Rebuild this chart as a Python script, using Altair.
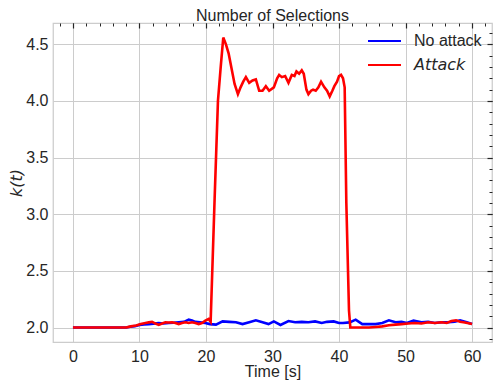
import altair as alt
import pandas as pd

chart_title = "Number of Selections"
series_names = ["No attack", "Attack"]
series_colors = ["#0000ff", "#ff0000"]

no_attack_t = [0, 8.0, 8.6, 9.3, 10.0, 10.7, 11.4, 12.1, 12.9, 13.6, 14.4, 15.1, 15.9,
               16.7, 17.4, 17.9, 18.4, 19.1, 19.9, 20.6, 21.5, 22.5, 23.5, 24.5, 25.5,
               26.5, 27.5, 28.5, 29.4, 30.2, 31.2, 32.4, 33.4, 34.4, 35.4, 36.4, 37.4,
               38.2, 39.2, 40.0, 40.6, 41.6, 42.5, 43.5, 44.5, 45.5, 46.5, 47.5, 48.5,
               49.4, 50.2, 51.2, 52.4, 53.4, 54.4, 55.4, 56.4, 57.4, 58.2, 59.2, 60.0]
no_attack_k = [2.0, 2.0, 2.006, 2.012, 2.023, 2.026, 2.03, 2.034, 2.04, 2.036, 2.04, 2.042,
               2.046, 2.05, 2.069, 2.062, 2.05, 2.045, 2.04, 2.03, 2.026, 2.054, 2.05,
               2.046, 2.03, 2.046, 2.063, 2.046, 2.03, 2.054, 2.022, 2.057, 2.046, 2.05,
               2.046, 2.054, 2.04, 2.05, 2.054, 2.04, 2.04, 2.045, 2.069, 2.03, 2.03,
               2.03, 2.04, 2.063, 2.046, 2.05, 2.04, 2.06, 2.046, 2.05, 2.04, 2.046,
               2.046, 2.05, 2.063, 2.046, 2.03]

attack_t = [0, 8.0, 8.7, 9.5, 10.2, 10.9, 11.4, 11.9, 12.4, 12.9, 13.4, 13.9, 14.4, 14.9,
            15.4, 15.9, 16.4, 16.9, 17.4, 17.9, 18.4, 18.9, 19.4, 19.9, 20.4, 20.7,
            21.3, 21.8, 22.2, 22.6, 23.0, 23.4, 23.8, 24.3, 24.8, 25.2, 25.6, 26.0,
            26.5, 27.0, 27.5, 28.0, 28.5, 29.0, 29.5, 30.2, 30.7, 31.0, 31.4, 31.9,
            32.4, 32.9, 33.3, 33.6, 34.0, 34.4, 34.7, 35.1, 35.4, 35.8, 36.1, 36.5,
            36.9, 37.3, 37.8, 38.2, 38.6, 39.0, 39.3, 39.7, 40.0, 40.3, 40.6, 40.85,
            41.1, 41.5, 41.7, 43.0, 44.5, 45.5, 46.5, 47.5, 48.5, 49.4, 50.4, 51.4,
            52.4, 53.4, 54.4, 55.4, 56.2, 56.9, 57.6, 58.2, 58.7, 59.3, 60.0]
attack_k = [2.0, 2.0, 2.01, 2.017, 2.03, 2.04, 2.045, 2.05, 2.035, 2.023, 2.035, 2.046,
            2.044, 2.046, 2.04, 2.03, 2.04, 2.046, 2.04, 2.046, 2.04, 2.03, 2.04, 2.06,
            2.075, 2.05,
            3.14, 4.0, 4.29, 4.56, 4.50, 4.42, 4.30, 4.15, 4.06, 4.12, 4.17, 4.21,
            4.16, 4.18, 4.19, 4.09, 4.09, 4.13, 4.09, 4.12, 4.20, 4.23, 4.21, 4.22,
            4.16, 4.23, 4.22, 4.26, 4.24, 4.27, 4.24, 4.10, 4.06, 4.09, 4.10, 4.09,
            4.12, 4.17, 4.12, 4.09, 4.04, 4.09, 4.13, 4.17, 4.22, 4.23, 4.20, 4.12,
            3.1, 2.15, 2.0, 2.0, 2.0, 2.005, 2.01, 2.02, 2.025, 2.03, 2.035, 2.04,
            2.035, 2.046, 2.04, 2.046, 2.04, 2.057, 2.063, 2.05, 2.046, 2.04, 2.03]

x_ticks = [0, 10, 20, 30, 40, 50, 60]
x_minor_ticks = [-2, 0, 2, 4, 6, 8, 10, 12, 14, 16, 18, 20, 22, 24, 26, 28, 30, 32, 34,
                 36, 38, 40, 42, 44, 46, 48, 50, 52, 54, 56, 58, 60, 62]
y_ticks = [2.0, 2.5, 3.0, 3.5, 4.0, 4.5]
y_minor_ticks = [1.9, 2.0, 2.1, 2.2, 2.3, 2.4, 2.5, 2.6, 2.7, 2.8, 2.9, 3.0, 3.1, 3.2,
                 3.3, 3.4, 3.5, 3.6, 3.7, 3.8, 3.9, 4.0, 4.1, 4.2, 4.3, 4.4, 4.5, 4.6]
x_domain = [-3, 63]
y_domain = [1.872, 4.688]

TEXT = "#262626"
GRID = "#cccccc"
SANS = "Liberation Sans"
W, H = 439, 319

df_no = pd.DataFrame({"t": no_attack_t, "k": no_attack_k, "series": series_names[0]})
df_at = pd.DataFrame({"t": attack_t, "k": attack_k, "series": series_names[1]})
df_title = pd.DataFrame({"title": [chart_title]})

xs = alt.Scale(domain=x_domain, nice=False, zero=False)
ys = alt.Scale(domain=y_domain, nice=False, zero=False)

color = alt.Color(
    "series:N",
    scale=alt.Scale(domain=series_names, range=series_colors),
    legend=alt.Legend(
        orient="none", legendX=314, legendY=8, title=None,
        symbolType="stroke", symbolSize=1089, symbolStrokeWidth=2,
        clipHeight=20, rowPadding=4, labelOffset=12, padding=0,
        labelFontSize=16, labelColor=TEXT, labelLimit=300,
        labelFont=alt.ExprRef("datum.label === 'Attack' ? 'DejaVu Sans' : 'Liberation Sans'"),
        labelFontStyle=alt.ExprRef("datum.label === 'Attack' ? 'italic' : 'normal'"),
    ),
)

blue = alt.Chart(df_no).mark_line(strokeWidth=2.6).encode(
    x=alt.X("t:Q", scale=xs, axis=alt.Axis(
        orient="bottom", values=x_ticks, grid=True, gridColor=GRID, gridWidth=1,
        domain=False, ticks=False, tickSize=0, labelPadding=6,
        labelFont=SANS, labelFontSize=16, labelColor=TEXT,
        title="Time [s]", titleFont=SANS, titleFontSize=16, titleFontWeight="normal",
        titleColor=TEXT, titleX=W / 2, titleY=34.5, titleBaseline="alphabetic",
        titleAlign="center")),
    y=alt.Y("k:Q", scale=ys, axis=alt.Axis(
        orient="left", values=y_ticks, format=".1f", grid=True, gridColor=GRID,
        gridWidth=1, domain=False, ticks=False, tickSize=0, labelPadding=5,
        labelFont=SANS, labelFontSize=16, labelColor=TEXT,
        title="k(t)", titleFont="DejaVu Sans", titleFontStyle="italic",
        titleFontSize=16, titleFontWeight="normal", titleColor=TEXT,
        titleX=-32, titleY=H / 2, titleAngle=270, titleBaseline="alphabetic",
        titleAlign="center")),
    color=color,
)

red = alt.Chart(df_at).mark_line(strokeWidth=2.6).encode(
    x=alt.X("t:Q", scale=xs, axis=alt.Axis(
        orient="top", values=x_ticks, grid=False, domain=False, labels=False,
        ticks=True, tickSize=5, offset=-5, tickColor=TEXT, tickWidth=1.2, title=None)),
    y=alt.Y("k:Q", scale=ys, axis=alt.Axis(
        orient="right", values=y_ticks, grid=False, domain=False, labels=False,
        ticks=True, tickSize=5, offset=-5, tickColor=TEXT, tickWidth=1.2, title=None)),
    color=color,
)

minor = alt.Chart(df_at).mark_line(opacity=0).encode(
    x=alt.X("t:Q", scale=xs, axis=alt.Axis(
        orient="top", values=x_minor_ticks, grid=False, domain=False, labels=False,
        ticks=True, tickSize=3, offset=-3, tickColor=TEXT, tickWidth=1, title=None)),
    y=alt.Y("k:Q", scale=ys, axis=alt.Axis(
        orient="right", values=y_minor_ticks, grid=False, domain=False, labels=False,
        ticks=True, tickSize=3, offset=-3, tickColor=TEXT, tickWidth=1, title=None)),
)

title_text = alt.Chart(df_title).mark_text(
    font=SANS, fontSize=16, color=TEXT, align="center", baseline="alphabetic"
).encode(text="title:N", x=alt.value(W / 2), y=alt.value(-2))

chart = alt.layer(blue, red, minor, title_text).resolve_scale(
    x="shared", y="shared", color="shared"
).resolve_axis(
    x="independent", y="independent"
).properties(
    width=W, height=H,
    autosize=alt.AutoSizeParams(type="none"),
    padding={"left": 45, "top": 15, "right": 1, "bottom": 38},
    background="white",
).configure_view(stroke=GRID, strokeWidth=1.25)

chart.save("out.html", embed_options={"renderer": "svg", "actions": False})
